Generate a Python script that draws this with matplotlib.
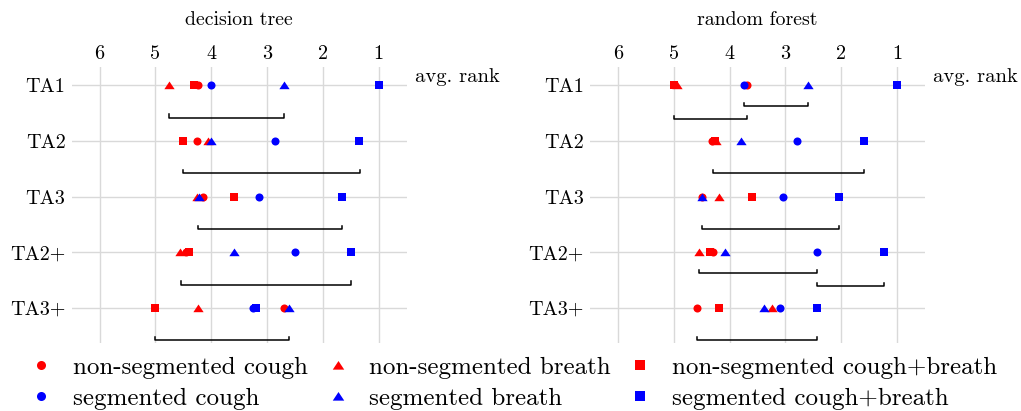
import matplotlib
matplotlib.use("Agg")
import matplotlib.pyplot as plt
from matplotlib.lines import Line2D

plt.rcParams['font.family'] = ['cmr10', 'DejaVu Serif']
plt.rcParams['mathtext.fontset'] = 'cm'
plt.rcParams['axes.formatter.use_mathtext'] = True

categories = ['TA1', 'TA2', 'TA3', 'TA2+', 'TA3+']
rank_ticks = [6, 5, 4, 3, 2, 1]

# decision tree average ranks
dt_nonseg_cough = [4.24, 4.25, 4.15, 4.45, 2.70]
dt_nonseg_breath = [4.75, 4.06, 4.26, 4.56, 4.24]
dt_nonseg_cb = [4.30, 4.50, 3.60, 4.39, 5.00]
dt_seg_cough = [4.00, 2.85, 3.15, 2.50, 3.25]
dt_seg_breath = [2.70, 4.00, 4.21, 3.60, 2.60]
dt_seg_cb = [1.00, 1.35, 1.65, 1.50, 3.19]
# critical difference bars (per row: list of (start, end))
dt_cd = [[(4.75, 2.70)], [(4.50, 1.34)], [(4.24, 1.65)], [(4.55, 1.49)], [(5.00, 2.60)]]

# random forest average ranks
rf_nonseg_cough = [3.68, 4.31, 4.49, 4.29, 4.59]
rf_nonseg_breath = [4.94, 4.25, 4.19, 4.54, 3.24]
rf_nonseg_cb = [5.00, 4.27, 3.60, 4.35, 4.19]
rf_seg_cough = [3.74, 2.80, 3.04, 2.44, 3.09]
rf_seg_breath = [2.59, 3.80, 4.49, 4.09, 3.39]
rf_seg_cb = [1.00, 1.59, 2.04, 1.24, 2.44]
rf_cd = [[(3.74, 2.59), (5.00, 3.68)], [(4.29, 1.59)], [(4.49, 2.04)],
         [(4.54, 2.44), (2.44, 1.24)], [(4.59, 2.44)]]

labels = ['non-segmented cough', 'non-segmented breath', 'non-segmented cough+breath',
          'segmented cough', 'segmented breath', 'segmented cough+breath']
colors = ['#ff0000', '#ff0000', '#ff0000', '#0000ff', '#0000ff', '#0000ff']
tri = [(-1.0, -0.72), (1.0, -0.72), (0.0, 0.78)]
markers = ['o', tri, 's', 'o', tri, 's']
msizes = [5.8, 7.4, 5.8, 5.8, 7.4, 5.8]

fig = plt.figure(figsize=(10.21, 4.11), dpi=100)
ax1 = fig.add_axes([0.0702, 0.1655, 0.328, 0.6715])
ax2 = fig.add_axes([0.5779, 0.1655, 0.328, 0.6715])

def draw(ax, series, cds, title):
    ypos = list(range(len(categories)))
    for y in ypos:
        ax.axhline(y, color='#d9d9d9', lw=1.0, zorder=0)
    for t in rank_ticks:
        ax.axvline(t, color='#d9d9d9', lw=1.0, zorder=0)
    order = [2, 0, 1, 3, 4, 5]
    for i in order:
        ax.plot(series[i], ypos, linestyle='none', marker=markers[i], color=colors[i],
                markersize=msizes[i], markeredgewidth=0, zorder=3)
    for y, bars in zip(ypos, cds):
        offs = [0.58] if len(bars) == 1 else [0.37, 0.61]
        for (a, b), o in zip(bars, offs):
            yy = y + o
            ax.plot([a, a, b, b], [yy - 0.06, yy, yy, yy - 0.06], color='black', lw=1.1, zorder=2)
    ax.set_xlim(6.5, 0.5)
    ax.set_ylim(4.63, -0.33)
    ax.set_xticks(rank_ticks)
    ax.set_xticklabels([str(t) for t in rank_ticks])
    ax.set_yticks(ypos)
    ax.set_yticklabels(categories)
    ax.xaxis.tick_top()
    ax.tick_params(axis='both', length=0, labelsize=14.5)
    ax.tick_params(axis='x', pad=2.6)
    ax.tick_params(axis='y', pad=4.4)
    for s in ax.spines.values():
        s.set_visible(False)
    ax.set_title(title, fontsize=14.3, pad=30)
    ax.text(1.025, 0.964, 'avg. rank', transform=ax.transAxes, ha='left', va='center', fontsize=14.8)

draw(ax1, [dt_nonseg_cough, dt_nonseg_breath, dt_nonseg_cb, dt_seg_cough, dt_seg_breath, dt_seg_cb],
     dt_cd, 'decision tree')
draw(ax2, [rf_nonseg_cough, rf_nonseg_breath, rf_nonseg_cb, rf_seg_cough, rf_seg_breath, rf_seg_cb],
     rf_cd, 'random forest')

handles = []
leg_order = [0, 3, 1, 4, 2, 5]
for i in leg_order:
    handles.append(Line2D([], [], linestyle='none', marker=markers[i], color=colors[i],
                          markersize=msizes[i] * 1.12, markeredgewidth=0))
fig.legend(handles, [labels[i] for i in leg_order], ncol=3, loc='lower left',
           bbox_to_anchor=(0.0284, 0.003), frameon=False, fontsize=18,
           handlelength=1.0, handletextpad=0.75, columnspacing=0.7, labelspacing=0.33,
           borderaxespad=0.0, borderpad=0.0)

fig.savefig('out.png', dpi=100)
